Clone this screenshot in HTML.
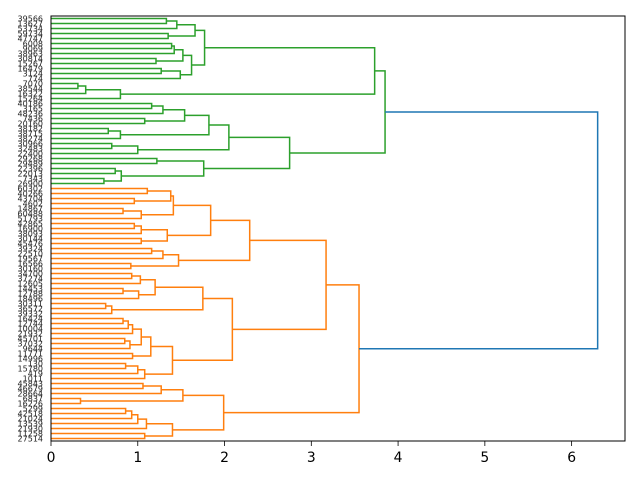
<!DOCTYPE html>
<html><head><meta charset="utf-8"><style>
body{margin:0;background:#fff;}
svg{display:block;font-family:"DejaVu Sans","Liberation Sans",sans-serif;}
</style></head><body>
<svg id="s" width="640" height="480" xmlns="http://www.w3.org/2000/svg"></svg>
<script>
var labels=["39566","13627","53734","59734","47747","6008","9069","38963","30814","15267","16479","3124","774",
"7070","38544","16322","15264","40186","3165","48236","7436","20160","38182","38715","38274","30966","32483","22400",
"29268","29489","22396","22013","7343","26900",
"60302","40266","43704","4602","14867","60488","51793","42865","16900","38093","30144","45476","39324","22510","19567","16566",
"30160","34700","37274","12605","14453","12788","18496","30311","36572","39332","16424","12744","10004","21932","45701",
"37032","9644","11771","14996","130","15780","419","1011","45843","46679","28664","6837","16226","5299","42518","21024",
"13539","21930","11258","27514"];
var G1=[[[[0,1,1.33],2,1.45],[3,4,1.35],1.66],[[[[5,6,1.39],7,1.42],[8,9,1.21],1.52],[[10,11,1.27],12,1.49],1.62],1.77];
var G2=[[[13,14,0.31],15,0.40],16,0.80];
var G3=[[[[17,18,1.16],19,1.29],[20,21,1.08],1.54],[[22,23,0.66],24,0.80],1.82];
var G4=[[25,26,0.70],27,1.00];
var G5=[[28,29,1.22],[[30,31,0.74],[32,33,0.61],0.81],1.76];
var Green=[[G1,G2,3.73],[[G3,G4,2.05],G5,2.75],3.85];
var A=[[[[34,35,1.11],[36,37,0.96],1.38],[[38,39,0.83],40,1.04],1.41],[[[41,42,0.96],43,1.04],[44,45,1.04],1.34],1.84];
var B=[[[46,47,1.16],48,1.29],[49,50,0.92],1.47];
var C=[[[[51,52,0.93],53,1.03],[[54,55,0.83],56,1.01],1.20],[[57,58,0.63],59,0.70],1.75];
var D=[[[[[[60,61,0.83],62,0.89],63,0.94],[[64,65,0.85],66,0.91],1.04],[67,68,0.94],1.15],[[[69,70,0.86],71,1.00],72,1.08],1.40];
var O3a=[[[73,74,1.06],75,1.27],[76,77,0.34],1.52];
var E=[[[[[78,79,0.86],80,0.93],81,1.00],82,1.10],[83,84,1.08],1.40];
var Orange=[[[A,B,2.29],[C,D,2.09],3.17],[O3a,E,1.99],3.55];
var out=[];
function X(d){return 51+d*86.77;}
function Y(i){return 16+(i+0.5)*5;}
function draw(n,col){
  if(typeof n==="number") return {y:Y(n),h:0};
  var l=draw(n[0],col),r=draw(n[1],col),h=n[2];
  out.push('<path d="M'+X(l.h).toFixed(2)+' '+l.y.toFixed(2)+'H'+X(h).toFixed(2)+'V'+r.y.toFixed(2)+'H'+X(r.h).toFixed(2)+'" fill="none" stroke="'+col+'" stroke-width="1.5"/>');
  return {y:(l.y+r.y)/2,h:h};
}
var g=draw(Green,"#2ca02c"),o=draw(Orange,"#ff7f0e");
out.push('<path d="M'+X(g.h)+' '+g.y+'H'+X(6.30)+'V'+o.y+'H'+X(o.h)+'" fill="none" stroke="#1f77b4" stroke-width="1.5"/>');
out.push('<rect x="51" y="16" width="574" height="425" fill="none" stroke="#000" stroke-width="1"/>');
for(var t=0;t<=6;t++){var x=X(t);out.push('<line x1="'+x+'" y1="441" x2="'+x+'" y2="446" stroke="#000" stroke-width="0.8"/><text x="'+x+'" y="462" font-size="13.9" text-anchor="middle">'+t+'</text>');}
for(var i=0;i<labels.length;i++){out.push('<text x="43" y="'+(Y(i)+3)+'" font-size="8" text-anchor="end" fill="#222">'+labels[i]+'</text>');}
document.getElementById("s").innerHTML=out.join("");
</script>
</body></html>
